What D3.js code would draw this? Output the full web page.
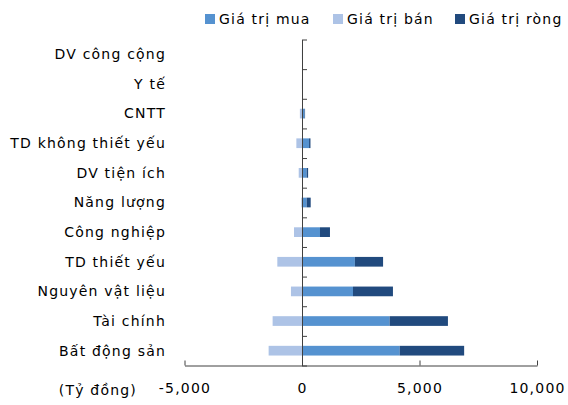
<!DOCTYPE html>
<html lang="vi">
<head>
<meta charset="UTF-8">
<title>Giá trị mua / bán / ròng theo ngành</title>
<script src="https://cdn.jsdelivr.net/npm/d3@7/dist/d3.min.js"></script>
<style>
    body { margin: 0; background: #fff; }
    svg text { font-family: "DejaVu Sans", Verdana, sans-serif; font-size: 14px; letter-spacing: 1.2px; fill: #000; }
</style>
</head>
<body>
<script>
    // danh mục (từ trên xuống)
    const categories = ['DV công cộng', 'Y tế', 'CNTT', 'TD không thiết yếu', 'DV tiện ích',
        'Năng lượng', 'Công nghiệp', 'TD thiết yếu', 'Nguyên vật liệu', 'Tài chính', 'Bất động sản'];
    // giá trị (tỷ đồng)
    const buyValues  = [15, 10, 110, 300, 200, 200, 765, 2250, 2170, 3730, 4160];
    const sellValues = [-5, -5, -90, -240, -140, -30, -340, -1050, -470, -1250, -1420];
    const netValues  = [10, 5, 20, 60, 60, 170, 425, 1200, 1700, 2480, 2740];
    const seriesNames = ['Giá trị mua', 'Giá trị bán', 'Giá trị ròng'];
    const xTicks = [-5000, 0, 5000, 10000];

    const colors = ['#5592d0', '#adc3e6', '#214a7e'];

    const width = 568;
    const height = 405;
    const plot = { left: 184.5, right: 537, top: 39.5, bottom: 365.5 };

    const svg = d3.select('body').append('svg')
        .attr('width', width)
        .attr('height', height);

    const x = d3.scaleLinear().domain([-5000, 10000]).range([plot.left, plot.right]);
    const y = d3.scaleBand().domain(categories).range([plot.top, plot.bottom]);
    const barH = 9.7;

    // thanh: bán (âm), mua (dương), ròng xếp chồng sau mua
    const rows = categories.map((c, i) => ({ c, buy: buyValues[i], sell: sellValues[i], net: netValues[i] }));
    const barY = d => y(d.c) + y.bandwidth() / 2 - barH / 2;

    svg.append('g').selectAll('rect').data(rows).join('rect')
        .attr('x', d => x(d.sell)).attr('y', barY)
        .attr('width', d => x(0) - x(d.sell)).attr('height', barH)
        .attr('fill', colors[1]);

    svg.append('g').selectAll('rect').data(rows).join('rect')
        .attr('x', x(0)).attr('y', barY)
        .attr('width', d => x(d.buy) - x(0)).attr('height', barH)
        .attr('fill', colors[0]);

    svg.append('g').selectAll('rect').data(rows).join('rect')
        .attr('x', d => x(d.buy)).attr('y', barY)
        .attr('width', d => x(d.buy + d.net) - x(d.buy)).attr('height', barH)
        .attr('fill', colors[2]);

    // trục x (dấu trừ là gạch ngang thường)
    const fmt = d3.format(',');
    const xAxis = d3.axisBottom(x)
        .tickValues(xTicks)
        .tickSizeInner(-5)
        .tickSizeOuter(0)
        .tickPadding(18)
        .tickFormat(d => fmt(d).replace('\u2212', '-'));
    const gx = svg.append('g')
        .attr('transform', `translate(0, ${plot.bottom})`)
        .call(xAxis);
    gx.selectAll('path, line').attr('stroke', '#404040');
    gx.selectAll('text').attr('font-size', null).attr('font-family', null);

    // trục y tại 0, vạch ở ranh giới danh mục
    const yEdges = d3.scaleLinear().domain([0, categories.length]).range([plot.top, plot.bottom]);
    const gy = svg.append('g')
        .attr('transform', `translate(${x(0)}, 0)`)
        .call(d3.axisRight(yEdges).tickValues(d3.range(categories.length + 1)).tickSizeInner(5).tickSizeOuter(0).tickFormat(''));
    gy.selectAll('path, line').attr('stroke', '#404040');

    // nhãn danh mục
    svg.append('g').selectAll('text').data(categories).join('text')
        .attr('x', 166)
        .attr('y', d => y(d) + y.bandwidth() / 2)
        .attr('dy', '0.35em')
        .attr('text-anchor', 'end')
        .text(d => d);

    // đơn vị
    svg.append('text')
        .attr('x', 137).attr('y', 390).attr('dy', '0.35em')
        .attr('text-anchor', 'end')
        .text('(Tỷ đồng)');

    // chú giải
    const legendX = [205, 333, 455];
    const lg = svg.append('g').selectAll('g').data(seriesNames).join('g')
        .attr('transform', (d, i) => `translate(${legendX[i]}, 14)`);
    lg.append('rect').attr('width', 10).attr('height', 10)
        .attr('fill', (d, i) => colors[i]);
    lg.append('text').attr('x', 14).attr('y', 5).attr('dy', '0.35em').text(d => d);
</script>
</body>
</html>
